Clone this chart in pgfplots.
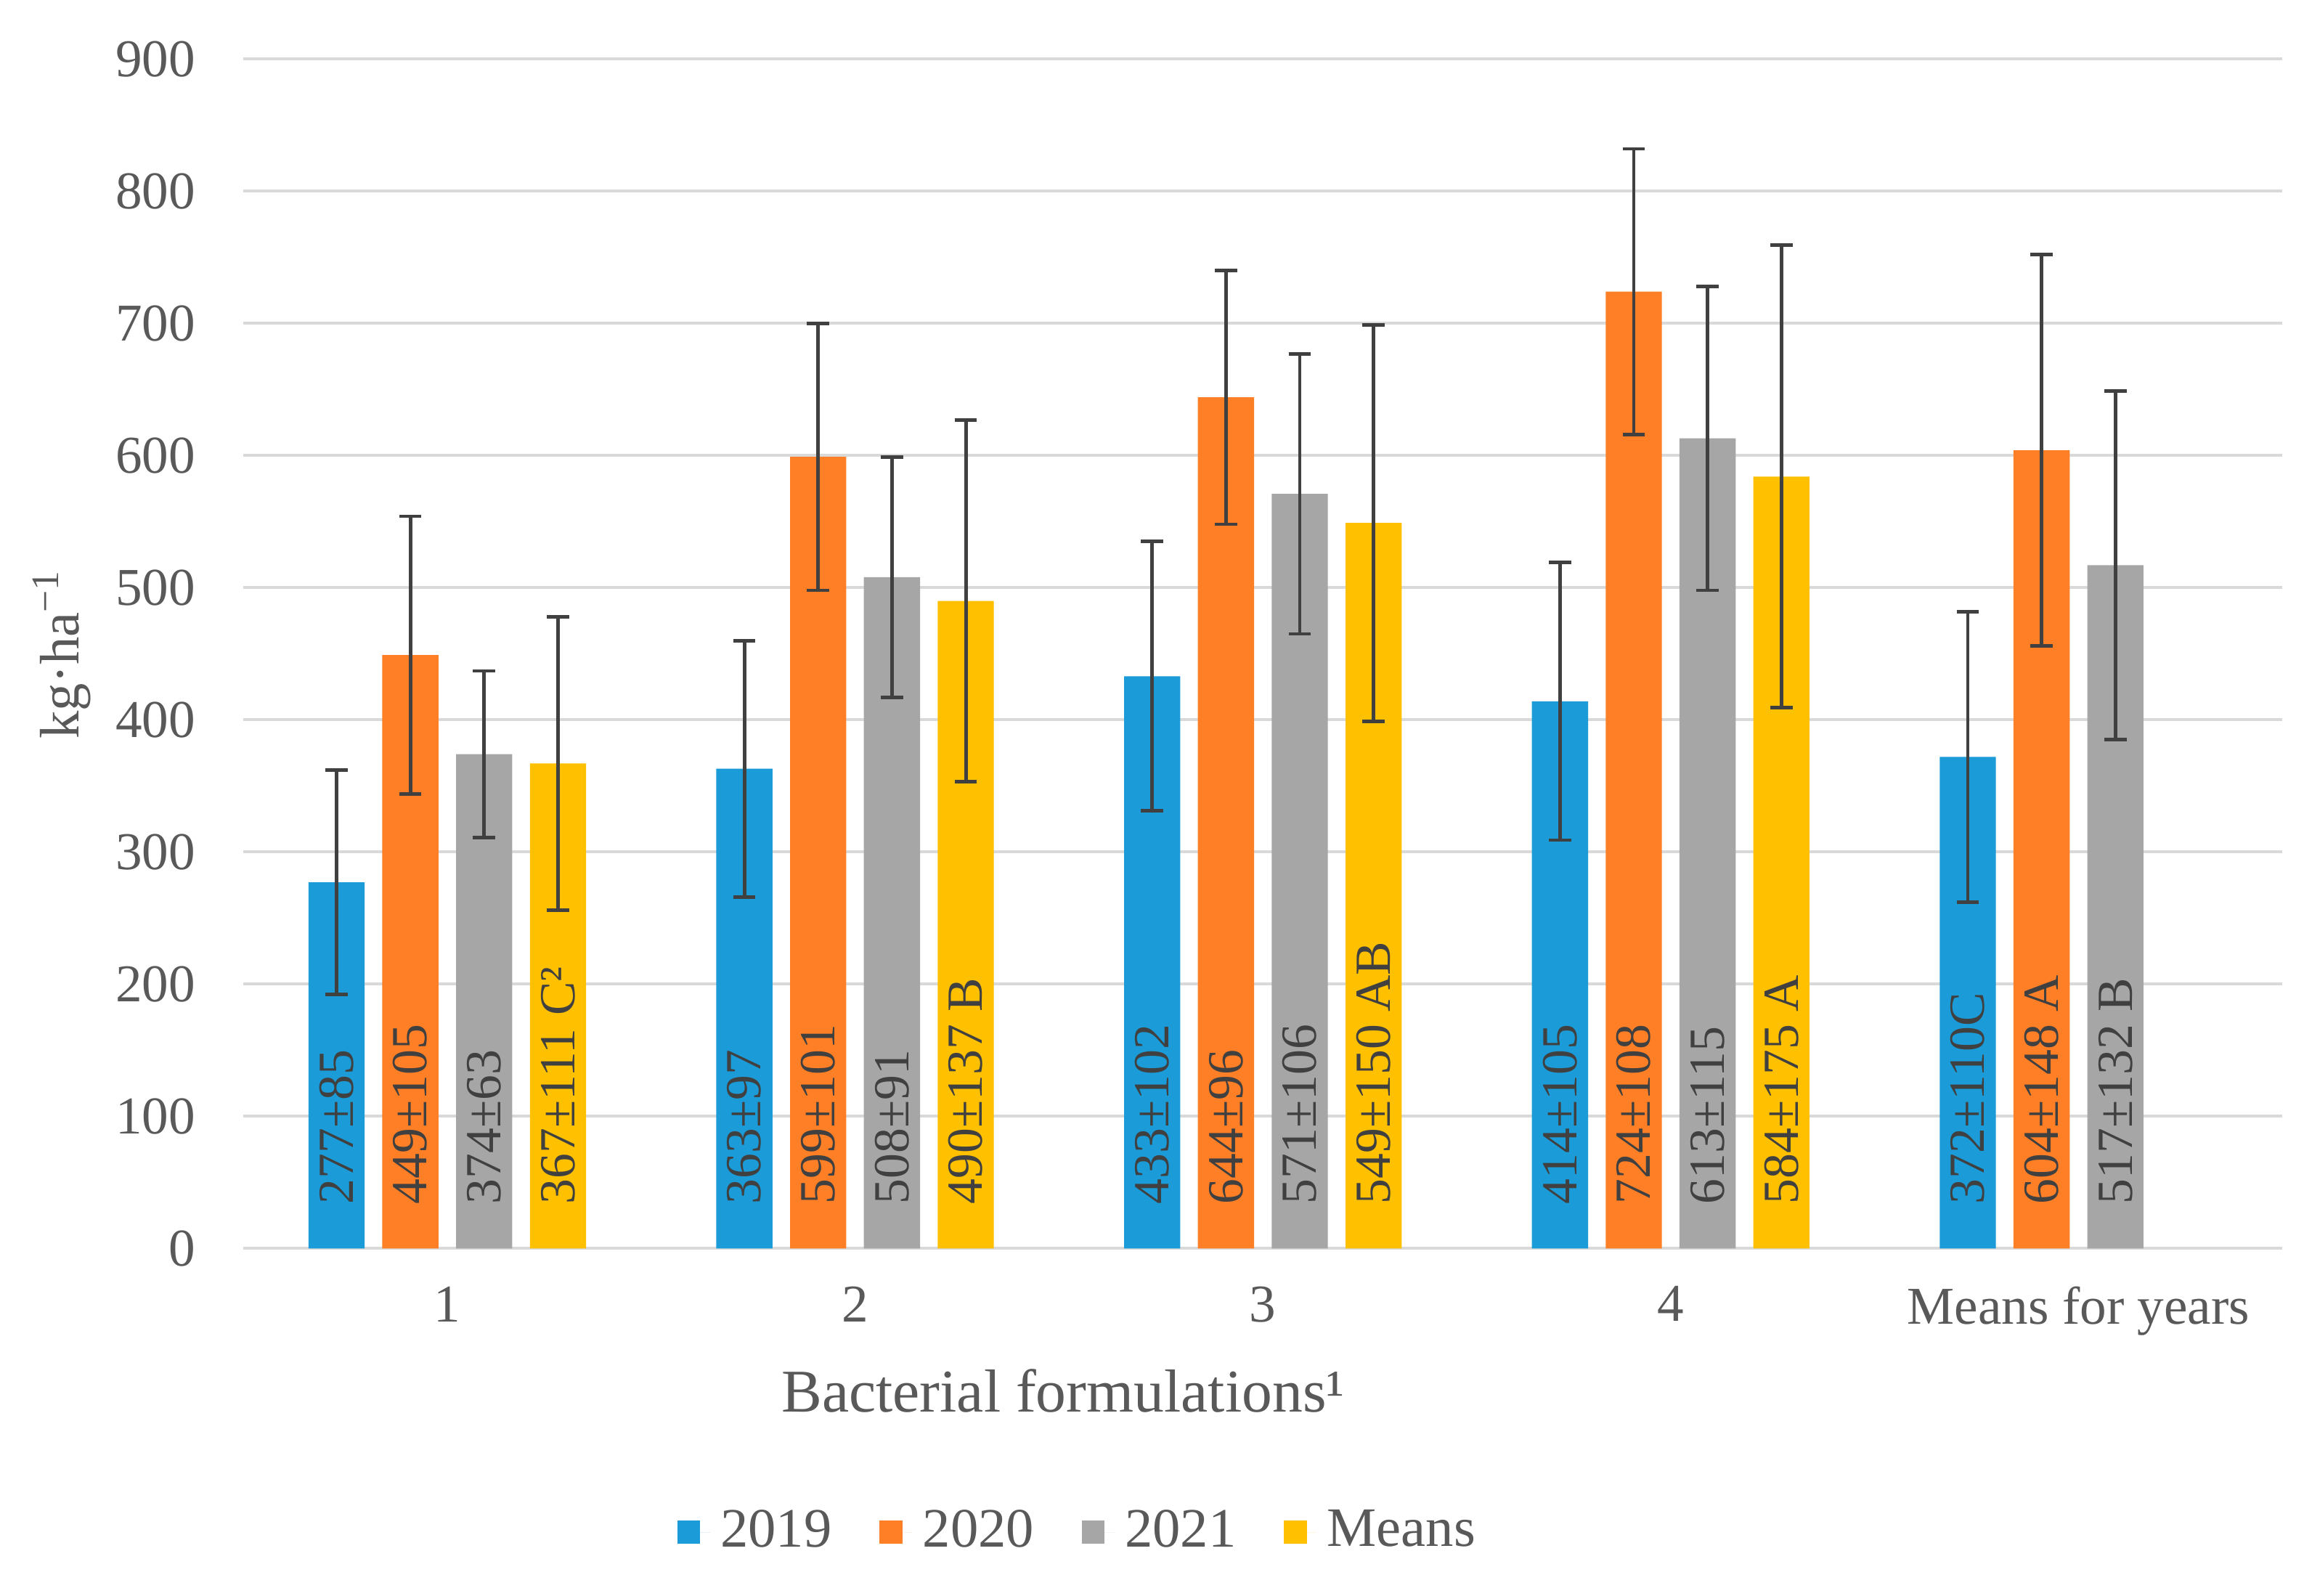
\documentclass[border=0pt]{standalone}
\usepackage{pgfplots}
\usepackage{pgfplotstable}
\pgfplotsset{compat=1.18}
\usepackage{fontspec}
\setmainfont{Liberation Serif}

\definecolor{c19}{HTML}{1B9BD7}
\definecolor{c20}{HTML}{FF7F27}
\definecolor{c21}{HTML}{A6A6A6}
\definecolor{cmean}{HTML}{FFC000}
\definecolor{gridc}{HTML}{D9D9D9}
\definecolor{labc}{HTML}{595959}
\definecolor{barlab}{HTML}{404040}
\definecolor{errc}{HTML}{404040}

% x = formulation (0..3), 4 = means for years
\pgfplotstableread[col sep=comma]{
x,y,err,lab
0,277,85,277±85
1,363,97,363±97
2,433,102,433±102
3,414,105,414±105
4,372,110,372±110C
}\tA
\pgfplotstableread[col sep=comma]{
x,y,err,lab
0,449,105,449±105
1,599,101,599±101
2,644,96,644±96
3,724,108,724±108
4,604,148,604±148 A
}\tB
\pgfplotstableread[col sep=comma]{
x,y,err,lab
0,374,63,374±63
1,508,91,508±91
2,571,106,571±106
3,613,115,613±115
4,517,132,517±132 B
}\tC
\pgfplotstableread[col sep=comma]{
x,y,err,lab
0,367,111,367±111  C²
1,490,137,490±137 B
2,549,150,549±150 AB
3,584,175,584±175 A
}\tD

\pgfplotsset{
  mybar/.style={draw=none, fill=#1,
    legend image code/.code={\fill[#1] (0cm,-0.08cm) rectangle (0.16cm,0.08cm);
      \path (0cm,0cm) -- (0.23cm,0cm);},
    nodes near coords, point meta=explicit symbolic,
    visualization depends on={\thisrow{y}\as\rawy},
    every node near coord/.append style={shift={(axis direction cs:0,-\rawy)}, yshift=0.3cm,
      rotate=90, anchor=west, inner sep=0pt, font=\fontsize{10}{12}\selectfont, text=barlab},
    /pgfplots/error bars/y dir=both, /pgfplots/error bars/y explicit,
    /pgfplots/error bars/error bar style={draw=errc, line width=0.7pt},
    /pgfplots/error bars/error mark options={rotate=90, mark size=2.2pt, draw=errc, line width=0.7pt}},
}

\begin{document}
\begin{tikzpicture}
\begin{axis}[
  scale only axis, width=14.16cm, height=8.26cm,
  ybar, bar width=0.1377,
  xmin=-0.5, xmax=4.5, ymin=0, ymax=900,
  xtick={0,...,4}, xticklabels={1,2,3,4,Means for years},
  ytick={0,100,...,900},
  ymajorgrids, grid style={draw=gridc, line width=0.6pt},
  axis x line=bottom, axis y line=left,
  x axis line style={draw=gridc, line width=0.6pt, -},
  y axis line style={draw=none},
  major tick length=0pt,
  tick label style={font=\fontsize{10.5}{12}\selectfont, text=labc},
  /pgf/number format/assume math mode=true,
  yticklabel style={xshift=-0.21cm},
  xticklabel style={yshift=-0.14cm},
  every axis x label/.style={at={(axis description cs:0.402,0)}, anchor=center,
    yshift=-0.99cm, font=\fontsize{12}{14}\selectfont, text=labc},
  every axis y label/.style={at={(axis description cs:0,0.5)}, xshift=-1.26cm, rotate=90,
    anchor=center, font=\fontsize{11}{13}\selectfont, text=labc},
  xlabel={Bacterial formulations¹},
  ylabel={kg·ha\textsuperscript{−1}},
  legend columns=4,
  legend style={at={(axis description cs:0.411,0)}, yshift=-1.97cm, anchor=center,
    draw=none, fill=none, font=\fontsize{11}{13}\selectfont, text=labc,
    /tikz/every even column/.append style={column sep=0.26cm}},
]
\addplot[bar shift=-0.2715, mybar=c19] table[x=x, y=y, y error=err, meta=lab] {\tA};
\addlegendentry{2019}
\addplot[bar shift=-0.0905, mybar=c20] table[x=x, y=y, y error=err, meta=lab] {\tB};
\addlegendentry{2020}
\addplot[bar shift=0.0905, mybar=c21] table[x=x, y=y, y error=err, meta=lab] {\tC};
\addlegendentry{2021}
\addplot[bar shift=0.2715, mybar=cmean] table[x=x, y=y, y error=err, meta=lab] {\tD};
\addlegendentry{Means}
\coordinate (sw) at (rel axis cs:0,0);
\coordinate (ne) at (rel axis cs:1,1);
\end{axis}
\pgfresetboundingbox
\path ([shift={(-1.69cm,-2.41cm)}]sw) rectangle ([shift={(0.15cm,0.41cm)}]ne);
\end{tikzpicture}
\end{document}
